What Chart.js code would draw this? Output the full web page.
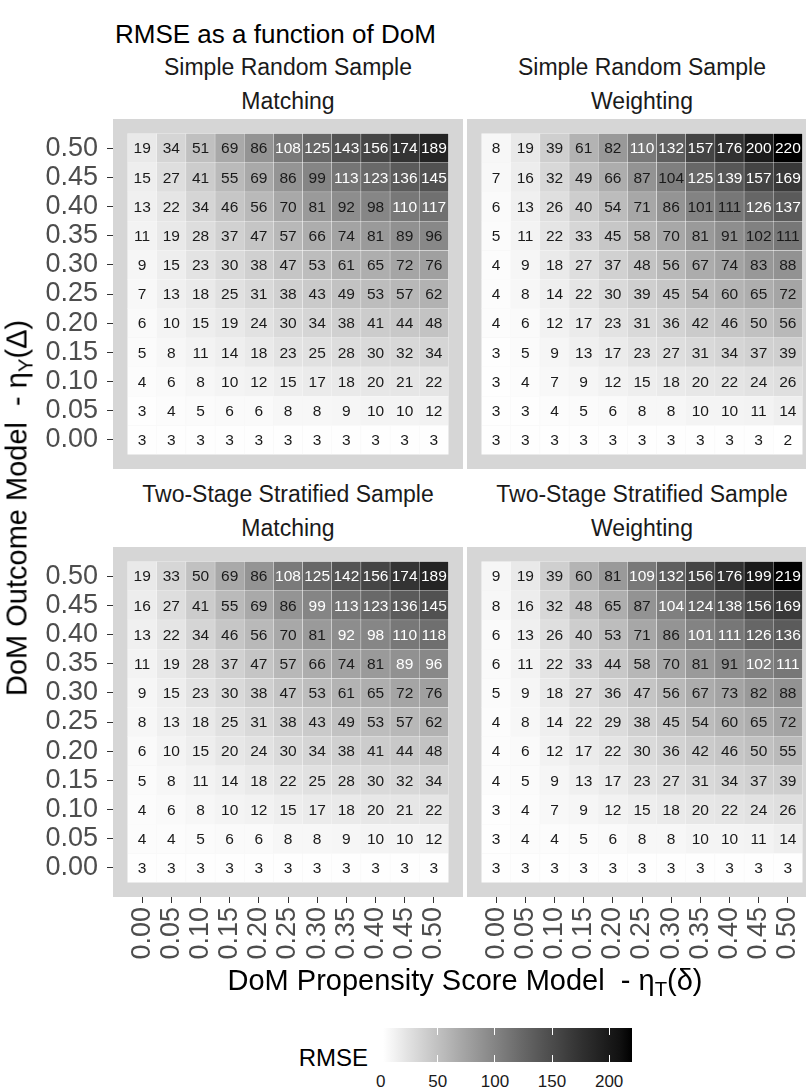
<!DOCTYPE html>
<html>
<head>
<meta charset="utf-8">
<title>RMSE as a function of DoM</title>
<script src="https://cdn.jsdelivr.net/npm/chart.js@4.4.1/dist/chart.umd.min.js"></script>
<style>
  body { margin: 0; background: #fff; font-family: 'Liberation Sans', Arial, sans-serif; }
  #wrap { position: relative; width: 806px; height: 1090px; overflow: hidden; background: #fff; }
  canvas { position: absolute; }
  .txt { position: absolute; white-space: nowrap; line-height: 1; }
  .strip { font-size: 23px; color: #1a1a1a; transform: translate(-50%, -50%); }
  .axis-title { font-size: 29px; color: #000; }
  .axis-title sub { font-size: 70%; vertical-align: -0.3em; line-height: 0; }
  #legendBar { position: absolute; }
  .ltick { position: absolute; width: 1px; background: #fff; }
  .llab { position: absolute; font-size: 17px; color: #1a1a1a; transform: translateX(-50%); line-height: 1; }
</style>
</head>
<body>
<div id="wrap">
  <div class="txt" style="left:115px; top:21px; font-size:26px; color:#000;">RMSE as a function of DoM</div>

  <div class="txt strip" style="left:288px; top:67px;">Simple Random Sample</div>
  <div class="txt strip" style="left:288px; top:101px;">Matching</div>
  <div class="txt strip" style="left:642px; top:67px;">Simple Random Sample</div>
  <div class="txt strip" style="left:642px; top:101px;">Weighting</div>
  <div class="txt strip" style="left:288px; top:494px;">Two-Stage Stratified Sample</div>
  <div class="txt strip" style="left:288px; top:528px;">Matching</div>
  <div class="txt strip" style="left:642px; top:494px;">Two-Stage Stratified Sample</div>
  <div class="txt strip" style="left:642px; top:528px;">Weighting</div>

  <canvas id="tl" width="463" height="350" style="left:0; top:119px;"></canvas>
  <canvas id="tr" width="350" height="350" style="left:467px; top:119px;"></canvas>
  <canvas id="bl" width="463" height="422" style="left:0; top:547px;"></canvas>
  <canvas id="br" width="350" height="422" style="left:467px; top:547px;"></canvas>

  <div class="txt axis-title" style="left:17px; top:508px; transform: translate(-50%, -50%) rotate(-90deg);">DoM Outcome Model&nbsp; - η<sub>Y</sub>(Δ)</div>
  <div class="txt axis-title" style="left:465px; top:980px; transform: translate(-50%, -50%);">DoM Propensity Score Model&nbsp; - η<sub>T</sub>(δ)</div>

  <div class="txt" style="left:368px; top:1058px; font-size:24px; color:#000; transform: translate(-100%, -50%);">RMSE</div>
  <div id="legendBar"></div>
</div>

<script>
// tick labels, shared by both axes (eta values)
const etaLabels = ['0.00', '0.05', '0.10', '0.15', '0.20', '0.25', '0.30', '0.35', '0.40', '0.45', '0.50'];

// rows are read top to bottom: outcome model 0.50 down to 0.00
const srsMatching = [
  [19, 34, 51, 69, 86, 108, 125, 143, 156, 174, 189],
  [15, 27, 41, 55, 69, 86, 99, 113, 123, 136, 145],
  [13, 22, 34, 46, 56, 70, 81, 92, 98, 110, 117],
  [11, 19, 28, 37, 47, 57, 66, 74, 81, 89, 96],
  [9, 15, 23, 30, 38, 47, 53, 61, 65, 72, 76],
  [7, 13, 18, 25, 31, 38, 43, 49, 53, 57, 62],
  [6, 10, 15, 19, 24, 30, 34, 38, 41, 44, 48],
  [5, 8, 11, 14, 18, 23, 25, 28, 30, 32, 34],
  [4, 6, 8, 10, 12, 15, 17, 18, 20, 21, 22],
  [3, 4, 5, 6, 6, 8, 8, 9, 10, 10, 12],
  [3, 3, 3, 3, 3, 3, 3, 3, 3, 3, 3]
];
const srsWeighting = [
  [8, 19, 39, 61, 82, 110, 132, 157, 176, 200, 220],
  [7, 16, 32, 49, 66, 87, 104, 125, 139, 157, 169],
  [6, 13, 26, 40, 54, 71, 86, 101, 111, 126, 137],
  [5, 11, 22, 33, 45, 58, 70, 81, 91, 102, 111],
  [4, 9, 18, 27, 37, 48, 56, 67, 74, 83, 88],
  [4, 8, 14, 22, 30, 39, 45, 54, 60, 65, 72],
  [4, 6, 12, 17, 23, 31, 36, 42, 46, 50, 56],
  [3, 5, 9, 13, 17, 23, 27, 31, 34, 37, 39],
  [3, 4, 7, 9, 12, 15, 18, 20, 22, 24, 26],
  [3, 3, 4, 5, 6, 8, 8, 10, 10, 11, 14],
  [3, 3, 3, 3, 3, 3, 3, 3, 3, 3, 2]
];
const tssMatching = [
  [19, 33, 50, 69, 86, 108, 125, 142, 156, 174, 189],
  [16, 27, 41, 55, 69, 86, 99, 113, 123, 136, 145],
  [13, 22, 34, 46, 56, 70, 81, 92, 98, 110, 118],
  [11, 19, 28, 37, 47, 57, 66, 74, 81, 89, 96],
  [9, 15, 23, 30, 38, 47, 53, 61, 65, 72, 76],
  [8, 13, 18, 25, 31, 38, 43, 49, 53, 57, 62],
  [6, 10, 15, 20, 24, 30, 34, 38, 41, 44, 48],
  [5, 8, 11, 14, 18, 22, 25, 28, 30, 32, 34],
  [4, 6, 8, 10, 12, 15, 17, 18, 20, 21, 22],
  [4, 4, 5, 6, 6, 8, 8, 9, 10, 10, 12],
  [3, 3, 3, 3, 3, 3, 3, 3, 3, 3, 3]
];
const tssWeighting = [
  [9, 19, 39, 60, 81, 109, 132, 156, 176, 199, 219],
  [8, 16, 32, 48, 65, 87, 104, 124, 138, 156, 169],
  [6, 13, 26, 40, 53, 71, 86, 101, 111, 126, 136],
  [6, 11, 22, 33, 44, 58, 70, 81, 91, 102, 111],
  [5, 9, 18, 27, 36, 47, 56, 67, 73, 82, 88],
  [4, 8, 14, 22, 29, 38, 45, 54, 60, 65, 72],
  [4, 6, 12, 17, 22, 30, 36, 42, 46, 50, 55],
  [4, 5, 9, 13, 17, 23, 27, 31, 34, 37, 39],
  [3, 4, 7, 9, 12, 15, 18, 20, 22, 24, 26],
  [3, 4, 4, 5, 6, 8, 8, 10, 10, 11, 14],
  [3, 3, 3, 3, 3, 3, 3, 3, 3, 3, 3]
];
const legendTicks = [0, 50, 100, 150, 200];

// how many cells (from the right) get a white label, per row from the top
const lightTop = [6, 4, 2];
const lightBottom = [6, 5, 4, 2];

const allValues = [srsMatching, srsWeighting, tssMatching, tssWeighting].flat(2);
const vMin = Math.min(...allValues);
const vMax = Math.max(...allValues);

// white -> black, interpolated on Lab lightness like ggplot's gradient
function fillFor(v) {
  const t = (v - vMin) / (vMax - vMin);
  const L = 100 * (1 - t);
  const fy = (L + 16) / 116;
  const Y = L > 8 ? fy * fy * fy : L / 903.3;
  const s = Y <= 0.0031308 ? 12.92 * Y : 1.055 * Math.pow(Y, 1 / 2.4) - 0.055;
  const g = Math.round(255 * Math.min(1, Math.max(0, s)));
  return `rgb(${g},${g},${g})`;
}

const FONT = "'Liberation Sans', Arial, sans-serif";

const panelBg = {
  id: 'panelBg',
  beforeDraw(chart) {
    const { ctx, chartArea: a } = chart;
    ctx.save();
    ctx.fillStyle = '#d6d6d6';
    ctx.fillRect(a.left, a.top, a.right - a.left, a.bottom - a.top);
    ctx.restore();
  }
};

const cellText = {
  id: 'cellText',
  afterDatasetsDraw(chart, args, opts) {
    const ctx = chart.ctx;
    ctx.save();
    ctx.font = `15.5px ${FONT}`;
    ctx.textAlign = 'center';
    ctx.textBaseline = 'middle';
    chart.data.datasets.forEach((ds, r) => {
      const nLight = opts.light[r] || 0;
      chart.getDatasetMeta(r).data.forEach((bar, i) => {
        ctx.fillStyle = i >= 11 - nLight ? '#ffffff' : '#1a1a1a';
        ctx.fillText(String(ds.data[i].v), bar.x, (bar.y + bar.base) / 2 + 1);
      });
    });
    ctx.restore();
  }
};

function axisOpts(show, isX) {
  return {
    type: 'linear',
    min: -1,
    max: 11,
    offset: false,
    display: show,
    afterBuildTicks: s => { s.ticks = etaLabels.map((_, i) => ({ value: i })); },
    afterFit: s => {
      // keep the panel the same size in every facet
      s.paddingTop = 0;
      s.paddingBottom = 0;
      s.paddingLeft = 0;
      s.paddingRight = 0;
      if (!show) return;
      if (isX) s.height = 72; else s.width = 113;
    },
    grid: { offset: false, drawOnChartArea: false, drawTicks: true, tickLength: 6, tickColor: '#333333', tickWidth: 1 },
    border: { display: false },
    ticks: {
      autoSkip: false,
      padding: isX ? 4 : 9,
      color: '#4d4d4d',
      font: { family: FONT, size: 27 },
      minRotation: isX ? 90 : 0,
      maxRotation: isX ? 90 : 0,
      callback: (v, i) => etaLabels[i]
    }
  };
}

function makeHeatmap(id, values, light, showX, showY) {
  const datasets = values.map((row, r) => ({
    data: row.map((v, i) => ({ x: i, y: [10 - r - 0.5, 10 - r + 0.5], v })),
    backgroundColor: row.map(fillFor),
    borderColor: 'rgba(255,255,255,0.7)',
    borderWidth: 0.5,
    borderSkipped: false,
    grouped: false,
    barPercentage: 1,
    categoryPercentage: 1
  }));
  return new Chart(document.getElementById(id), {
    type: 'bar',
    data: { datasets },
    options: {
      responsive: false,
      animation: false,
      devicePixelRatio: 1,
      layout: { padding: 0 },
      plugins: {
        legend: { display: false },
        tooltip: { enabled: false },
        cellText: { light }
      },
      scales: {
        x: axisOpts(showX, true),
        y: axisOpts(showY, false)
      }
    },
    plugins: [panelBg, cellText]
  });
}

makeHeatmap('tl', srsMatching, lightTop, false, true);
makeHeatmap('tr', srsWeighting, lightTop, false, false);
makeHeatmap('bl', tssMatching, lightBottom, true, true);
makeHeatmap('br', tssWeighting, lightBottom, true, false);

// colour bar legend
const bar = { left: 383, top: 1028, width: 249, height: 34 };
const legend = document.getElementById('legendBar');
const stops = [];
for (let k = 0; k <= 20; k++) {
  const v = vMin + (k / 20) * (vMax - vMin);
  stops.push(`${fillFor(v)} ${k * 5}%`);
}
Object.assign(legend.style, {
  left: bar.left + 'px', top: bar.top + 'px',
  width: bar.width + 'px', height: bar.height + 'px',
  background: `linear-gradient(to right, ${stops.join(', ')})`
});
const wrap = document.getElementById('wrap');
legendTicks.forEach(t => {
  const x = bar.left + (t - vMin) * bar.width / (vMax - vMin);
  if (t > vMin) {
    [bar.top, bar.top + bar.height - 7].forEach(y => {
      const tk = document.createElement('div');
      tk.className = 'ltick';
      Object.assign(tk.style, { left: (x - 0.5) + 'px', top: y + 'px', height: '7px' });
      wrap.appendChild(tk);
    });
  }
  const lab = document.createElement('div');
  lab.className = 'llab';
  lab.textContent = String(t);
  Object.assign(lab.style, { left: x + 'px', top: (bar.top + bar.height + 11) + 'px' });
  wrap.appendChild(lab);
});
</script>
</body>
</html>
